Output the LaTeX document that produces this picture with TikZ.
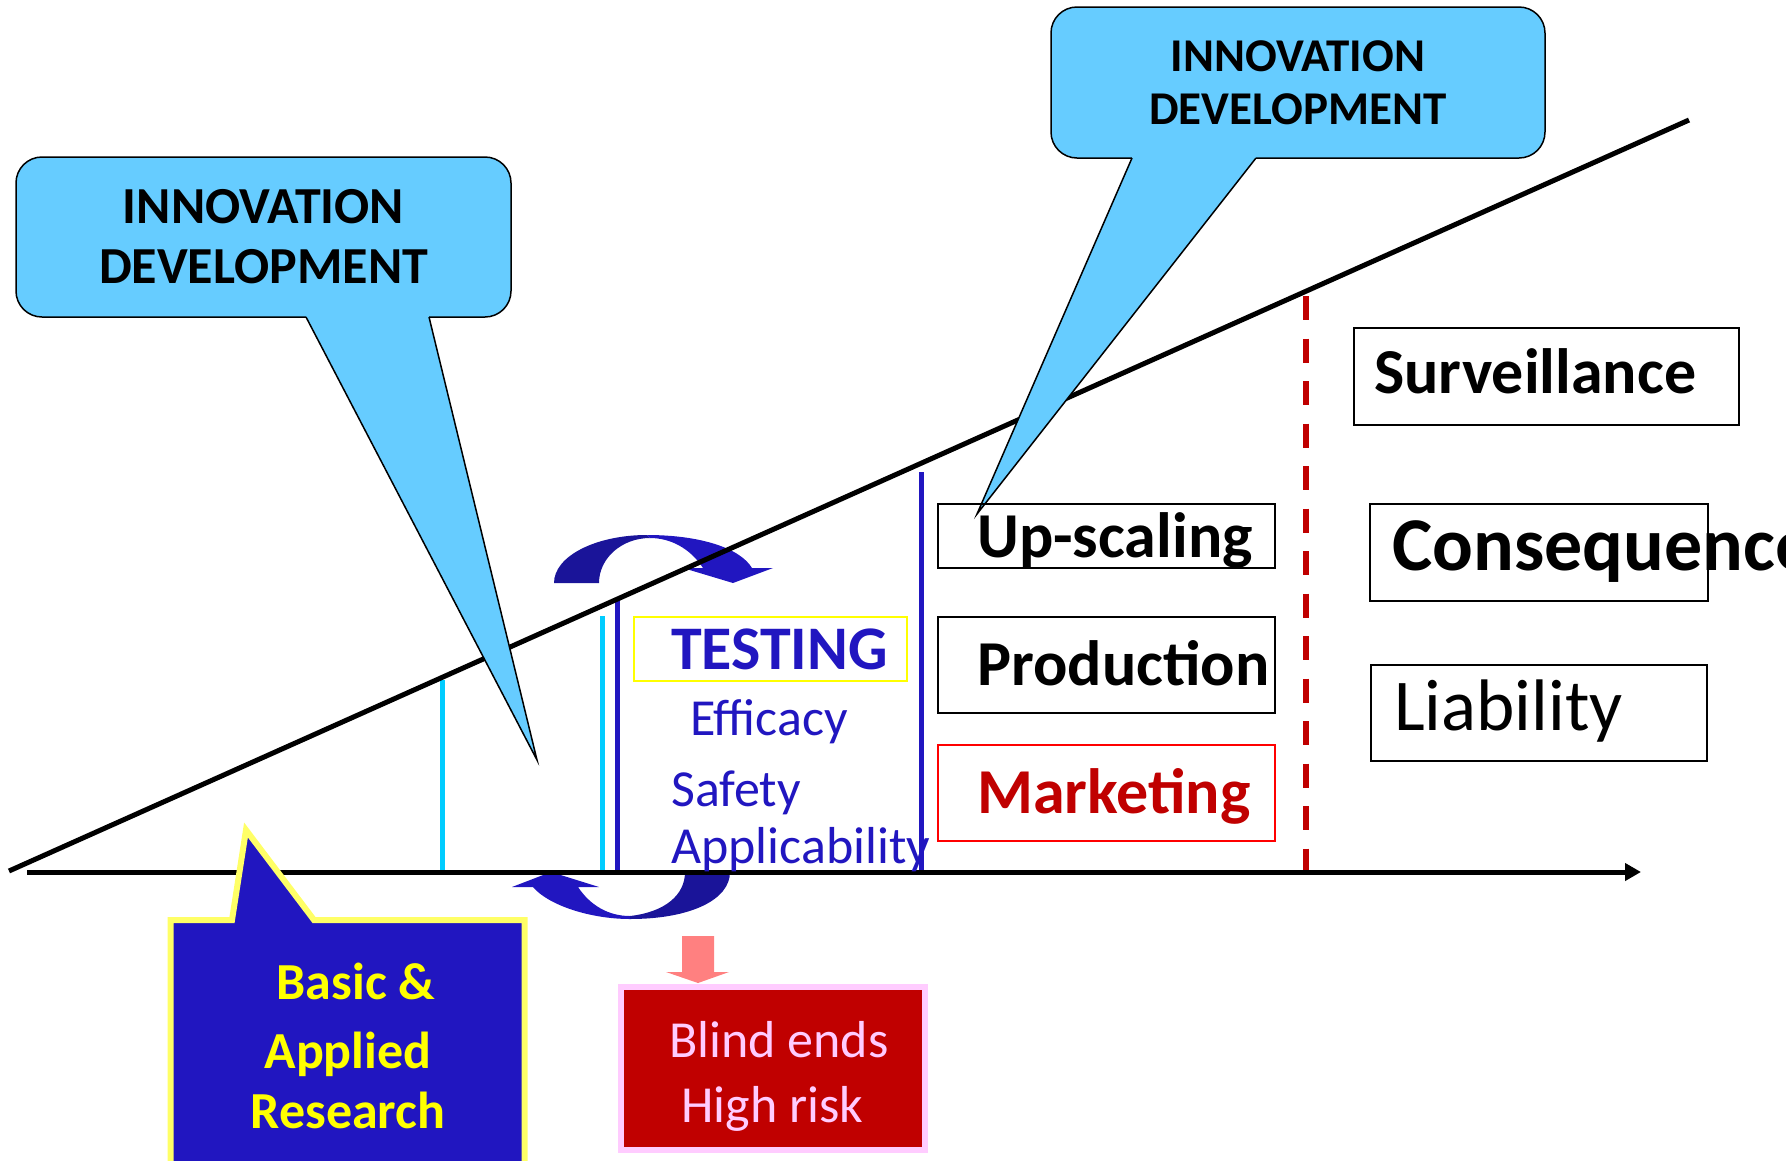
\documentclass[tikz,border=0pt]{standalone}
\usepackage{fontspec}
\setmainfont{Carlito}
\usetikzlibrary{arrows.meta}
\definecolor{callblue}{HTML}{66CCFF}
\definecolor{dblue}{RGB}{33,22,192}
\definecolor{ddblue}{RGB}{26,20,153}
\definecolor{cyanl}{HTML}{00CCFF}
\definecolor{darkred}{HTML}{C00000}
\definecolor{pinkt}{HTML}{FFCCFF}
\definecolor{salmon}{HTML}{FF8080}
\definecolor{yellowb}{HTML}{FFFF66}
\definecolor{yellowt}{HTML}{FFFF00}
\definecolor{redb}{HTML}{FF0000}
\tikzset{
  bx/.style 2 args={draw=black, line width=2pt, inner sep=0pt, minimum width=#1pt, minimum height=#2pt, anchor=north west},
  tx/.style={inner sep=0pt, anchor=base west},
  tc/.style={inner sep=0pt, anchor=base},
  callbox/.style={draw=black, line width=1.5pt, fill=callblue, rounded corners=26pt, inner sep=0pt, align=center},
  calltip/.style={draw=black, line width=1.5pt, line join=miter},
  bigb/.style={font=\bfseries\fontsize{64}{64}\selectfont},
  midr/.style={font=\fontsize{52}{60}\selectfont},
}
\begin{document}
\begin{tikzpicture}[x=1pt,y=-1pt]
\useasboundingbox (0,0) rectangle (1786,1160);
\clip (0,0) rectangle (1786,1160);

% curved arrows
\fill[ddblue] (554,583) .. controls (554,556) and (596,535) .. (647,535)
  -- (650,538) .. controls (622,538) and (599,558) .. (599,583) -- cycle;
\fill[dblue] (647,535) .. controls (700,535) and (740,548) .. (752,568)
  -- (773,568) -- (733,583) -- (683,568) -- (703,568)
  .. controls (690,548) and (670,538) .. (650,538) -- cycle;
\fill[dblue] (533,887) -- (512,887) -- (551,872) -- (599,887) -- (578,887)
  .. controls (590,905) and (608,916) .. (630,916)
  -- (630,919) .. controls (590,919) and (548,905) .. (533,887) -- cycle;
\fill[ddblue] (730,872) .. controls (730,900) and (690,919) .. (630,919)
  -- (630,916) .. controls (665,912) and (685,895) .. (685,872) -- cycle;

% vertical markers
\coordinate (c1t) at (442,680); \coordinate (c1b) at (442,872);
\coordinate (c2t) at (602,616); \coordinate (c2b) at (602,872);
\coordinate (b1t) at (617,600); \coordinate (b1b) at (617,872);
\coordinate (b2t) at (921,472); \coordinate (b2b) at (921,872);
\coordinate (rdt) at (1306,296); \coordinate (rdb) at (1306,872);
\draw[cyanl, line width=5pt] (c1t) -- (c1b);
\draw[cyanl, line width=5pt] (c2t) -- (c2b);
\draw[dblue, line width=5pt] (b1t) -- (b1b);
\draw[dblue, line width=5pt] (b2t) -- (b2b);
\draw[darkred, line width=5.5pt, dash pattern=on 24pt off 18.5pt] (rdt) -- (rdb);

% axes
\coordinate (rs) at (9,871); \coordinate (re) at (1689,120);
\coordinate (as) at (27,872); \coordinate (ae) at (1641,872);
\draw[black, line width=5pt] (rs) -- (re);
\draw[black, line width=5pt, -{Triangle[length=16pt,width=17pt]}] (as) -- (ae);

% callouts
\node[callbox, minimum width=495pt, minimum height=160pt, font=\bfseries\fontsize{52}{60}\selectfont] (cl) at (263.5,237) {INNOVATION\\DEVELOPMENT};
\fill[callblue] (308,308) -- (306,317) -- (537,760) -- (429,317) -- (427,308) -- cycle;
\draw[calltip] (306,317) -- (537,760) -- (429,317);

\node[callbox, minimum width=494pt, minimum height=151pt, font=\bfseries\fontsize{47}{53}\selectfont] (cr) at (1298,82.5) {INNOVATION\\DEVELOPMENT};
\fill[callblue] (1134,150) -- (1132,158) -- (977,514) -- (1256,158) -- (1254,150) -- cycle;
\draw[calltip] (1132,158) -- (977,514) -- (1256,158);

% basic & applied research callout
\filldraw[fill=dblue, draw=yellowb, line width=6pt, line join=miter]
  (170.5,1230) -- (170.5,920) -- (232,920) -- (246,830) -- (314,920) -- (524.5,920) -- (524.5,1230);
\node[tc, font=\bfseries\fontsize{52}{60}\selectfont, text=yellowt] (basic) at (356,999) {Basic \&};
\node[tc, font=\bfseries\fontsize{52}{60}\selectfont, text=yellowt] (applied) at (348,1068) {Applied};
\node[tc, font=\bfseries\fontsize{52}{60}\selectfont, text=yellowt] (research) at (348,1128) {Research};

% testing
\node[draw=yellowt, line width=2pt, inner sep=0pt, minimum width=273pt, minimum height=64pt, anchor=north west] (tbox) at (633,616) {};
\node[tx, font=\bfseries\fontsize{62}{62}\selectfont, text=dblue] (testing) at (671,669) {TESTING};
\node[tx, midr, text=dblue] (eff) at (690,735) {Efficacy};
\node[tx, midr, text=dblue] (saf) at (671,806) {Safety};
\node[tx, midr, text=dblue] (app) at (671,863) {Applicability};

% blind ends
\fill[salmon] (682,936) -- (714,936) -- (714,972) -- (729,972) -- (698,983) -- (666,972) -- (682,972) -- cycle;
\node[fill=darkred, draw=pinkt, line width=6pt, inner sep=0pt, minimum width=304pt, minimum height=163pt, anchor=north west] (blind) at (618,984) {};
\node[tx, midr, text=pinkt] (bl1) at (669,1057) {Blind ends};
\node[tx, midr, text=pinkt] (bl2) at (681,1122) {High risk};

% stage boxes
\node[bx={337}{64}] (upsc) at (937,503) {};
\node[tx, bigb] (upsct) at (977,557) {Up-scaling};
\node[bx={337}{96}] (prod) at (937,616) {};
\node[tx, bigb] (prodt) at (977,685) {Production};
\node[bx={337}{96}, draw=redb] (mark) at (937,744) {};
\node[tx, bigb, text=darkred] (markt) at (977,813) {Marketing};

\node[bx={385}{97}] (surv) at (1353,327) {};
\node[tx, bigb] (survt) at (1374,393) {Surveillance};
\node[bx={338}{97}] (cons) at (1369,503) {};
\node[tx, font=\bfseries\fontsize{76}{76}\selectfont] (const) at (1392,570) {Consequence};
\node[bx={336}{96}] (liab) at (1370,664) {};
\node[tx, font=\fontsize{73}{73}\selectfont] (liabt) at (1394,730) {Liability};
\end{tikzpicture}
\end{document}
